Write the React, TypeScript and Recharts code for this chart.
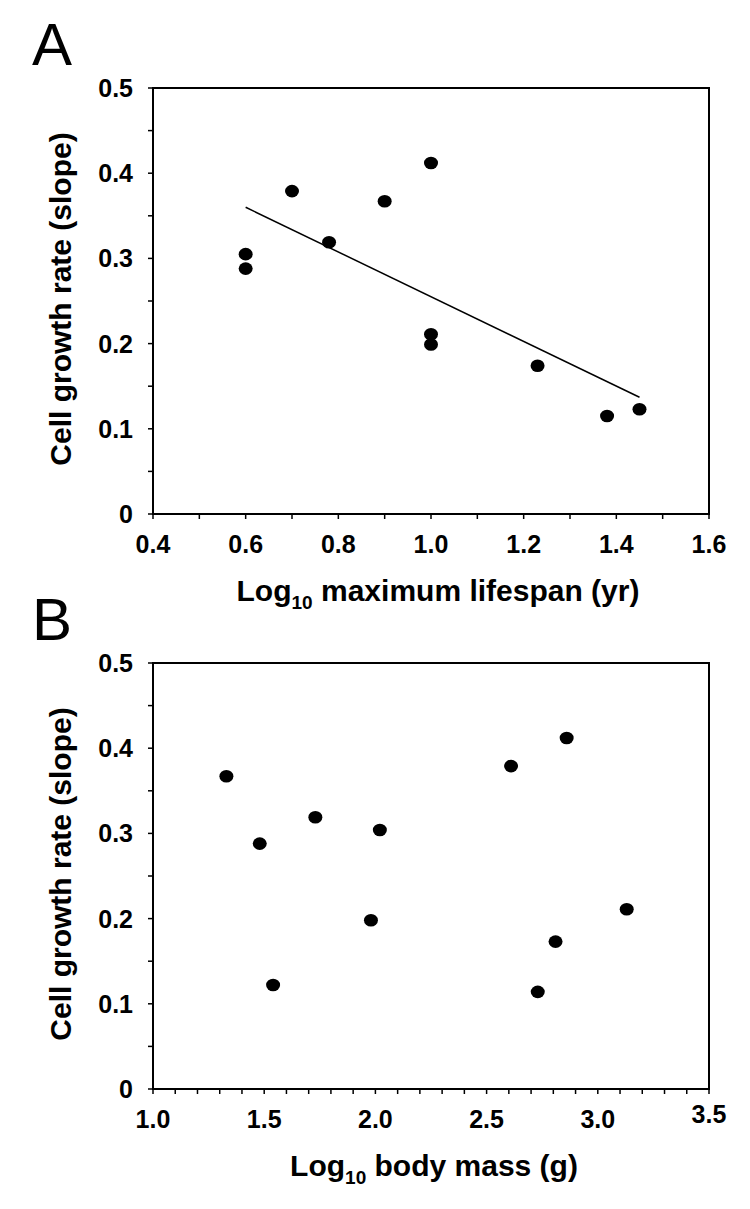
import React from "react";
import { ScatterChart, Scatter, XAxis, YAxis, ReferenceArea } from "recharts";

// Panel A: log10 maximum lifespan vs cell growth rate
const lifespanX = [0.6, 0.6, 0.7, 0.78, 0.9, 1.0, 1.0, 1.0, 1.23, 1.38, 1.45];
const lifespanY = [0.305, 0.288, 0.379, 0.319, 0.367, 0.412, 0.211, 0.199, 0.174, 0.115, 0.123];
const trendX = [0.6, 1.45];
const trendY = [0.36, 0.137];

// Panel B: log10 body mass vs cell growth rate
const massX = [1.33, 1.48, 1.54, 1.73, 1.98, 2.02, 2.61, 2.73, 2.81, 2.86, 3.13];
const massY = [0.367, 0.288, 0.122, 0.319, 0.198, 0.304, 0.379, 0.114, 0.173, 0.412, 0.211];

// ticks (minor + major)
const yTicks = [0, 0.05, 0.1, 0.15, 0.2, 0.25, 0.3, 0.35, 0.4, 0.45, 0.5];
const yLabels = [0, 0.1, 0.2, 0.3, 0.4, 0.5];
const lifespanTicks = [0.4, 0.5, 0.6, 0.7, 0.8, 0.9, 1.0, 1.1, 1.2, 1.3, 1.4, 1.5, 1.6];
const lifespanLabels = [0.4, 0.6, 0.8, 1.0, 1.2, 1.4, 1.6];
const massTicks = [1.0, 1.1, 1.2, 1.3, 1.4, 1.5, 1.6, 1.7, 1.8, 1.9, 2.0, 2.1, 2.2, 2.3, 2.4, 2.5, 2.6, 2.7, 2.8, 2.9, 3.0, 3.1, 3.2, 3.3, 3.4, 3.5];
const massLabels = [1.0, 1.5, 2.0, 2.5, 3.0, 3.5];

const FONT = "'Liberation Sans', Arial, sans-serif";

const zip = (xs: number[], ys: number[]) => xs.map((x, i) => ({ x, y: ys[i] }));
const has = (list: number[], v: number) => list.some(l => Math.abs(l - v) < 1e-6);

const Dot = (p: any) => <ellipse cx={p.cx} cy={p.cy} rx={7} ry={6.3} fill="#000" />;

const YTick = (p: any) => {
  const v = p.payload.value;
  if (!has(yLabels, v)) return <g />;
  return (
    <text x={p.x} y={p.y} dy={9} textAnchor="end" fontFamily={FONT} fontWeight="bold" fontSize={25} fill="#000">
      {v === 0 ? "0" : v.toFixed(1)}
    </text>
  );
};

const makeXTick = (labels: number[]) => (p: any) => {
  const v = p.payload.value;
  if (!has(labels, v)) return <g />;
  const lift = Math.abs(v - 3.5) < 1e-6 ? -5 : 0;
  return (
    <text x={p.x} y={p.y} dy={34 + lift} textAnchor="middle" fontFamily={FONT} fontWeight="bold" fontSize={25} fill="#000">
      {v.toFixed(1)}
    </text>
  );
};

function Panel(props: {
  letter: string; top: number; height: number; marginTop: number;
  points: { x: number; y: number }[]; trend?: { x: number; y: number }[];
  domain: [number, number]; ticks: number[]; labels: number[];
  title: string; titleShift: number;
}) {
  const { letter, top, height, marginTop, points, trend, domain, ticks, labels, title, titleShift } = props;
  const bottom = height - marginTop - 426;
  return (
    <div style={{ position: "absolute", left: 0, top, width: 750, height }}>
      <ScatterChart width={750} height={height} margin={{ top: marginTop, right: 41, left: 93, bottom: bottom - 60 }}>
        <text x={32} y={marginTop - 23} fontFamily={FONT} fontSize={60} fill="#000">{letter}</text>
        <XAxis
          type="number" dataKey="x" domain={domain} ticks={ticks} height={60}
          axisLine={{ stroke: "#000", strokeWidth: 2 }}
          tickLine={{ stroke: "#000", strokeWidth: 1.5 }} tickSize={5} tickMargin={0}
          tick={makeXTick(labels)} interval={0}
          label={{
            content: (lp: any) => {
              const vb = lp.viewBox || { x: 0, y: 0, width: 0 };
              return (
                <text x={vb.x + vb.width / 2 + titleShift} y={vb.y + 87} textAnchor="middle"
                  fontFamily={FONT} fontWeight="bold" fontSize={30} fill="#000">
                  {"Log"}
                  <tspan fontSize={19} dy={8}>10</tspan>
                  <tspan dy={-8}>{" " + title}</tspan>
                </text>
              );
            },
          }}
        />
        <YAxis
          type="number" dataKey="y" domain={[0, 0.5]} ticks={yTicks} width={60}
          axisLine={{ stroke: "#000", strokeWidth: 2 }}
          tickLine={{ stroke: "#000", strokeWidth: 1.5 }} tickSize={5} tickMargin={15}
          tick={YTick} interval={0}
          label={{
            content: (lp: any) => {
              const vb = lp.viewBox || { x: 0, y: 0, height: 0 };
              return (
                <text transform={`translate(71, ${vb.y + vb.height / 2 - 2}) rotate(-90)`} textAnchor="middle"
                  fontFamily={FONT} fontWeight="bold" fontSize={30} fill="#000">
                  Cell growth rate (slope)
                </text>
              );
            },
          }}
        />
        <ReferenceArea x1={domain[0]} x2={domain[1]} y1={0} y2={0.5} fill="none" stroke="#000" strokeWidth={2} fillOpacity={0} />
        {trend && (
          <Scatter data={trend} line={{ stroke: "#000", strokeWidth: 1.5 }} shape={() => <g />} isAnimationActive={false} legendType="none" />
        )}
        <Scatter data={points} shape={Dot} isAnimationActive={false} />
      </ScatterChart>
    </div>
  );
}

export default function App() {
  return (
    <div style={{ position: "absolute", left: 0, top: 0, width: 750, height: 1209, background: "#fff" }}>
      <Panel letter="A" top={0} height={620} marginTop={88}
        points={zip(lifespanX, lifespanY)} trend={zip(trendX, trendY)}
        domain={[0.4, 1.6]} ticks={lifespanTicks} labels={lifespanLabels}
        title="maximum lifespan (yr)" titleShift={7} />
      <Panel letter="B" top={580} height={629} marginTop={83}
        points={zip(massX, massY)}
        domain={[1.0, 3.5]} ticks={massTicks} labels={massLabels}
        title="body mass (g)" titleShift={3} />
    </div>
  );
}
